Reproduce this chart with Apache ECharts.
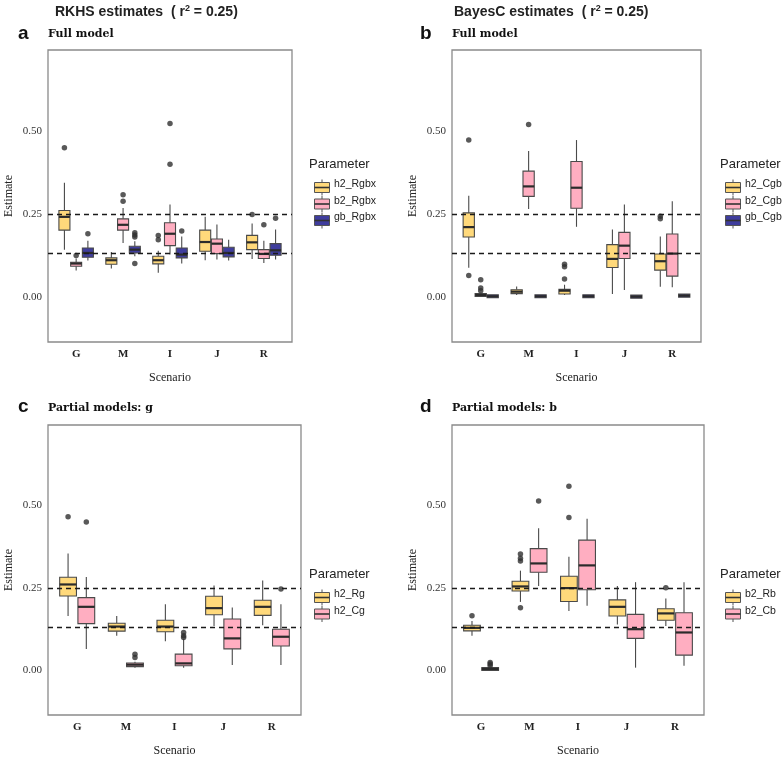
<!DOCTYPE html>
<html><head><meta charset="utf-8">
<script src="https://cdn.jsdelivr.net/npm/echarts@6/dist/echarts.min.js"></script>
<style>html,body{margin:0;padding:0;background:#fff}#c{width:784px;height:758px}</style>
</head><body><div id="c"></div>
<script>
const categories = ['G','M','I','J','R'];
// [lower whisker, Q1, median, Q3, upper whisker] per scenario
// Panel a: RKHS full model
const a_h2_Rgbx = [[0.142,0.201,0.241,0.26,0.344],[0.085,0.098,0.11,0.117,0.135],[0.072,0.099,0.11,0.122,0.139],[0.11,0.137,0.165,0.201,0.241],[0.114,0.142,0.164,0.185,0.221]];
const a_b2_Rgbx = [[0.079,0.092,0.1,0.104,0.115],[0.162,0.201,0.217,0.235,0.268],[0.127,0.154,0.19,0.223,0.278],[0.112,0.13,0.16,0.174,0.218],[0.102,0.115,0.129,0.142,0.169]];
const a_gb_Rgbx = [[0.109,0.119,0.132,0.147,0.169],[0.122,0.132,0.142,0.152,0.167],[0.1,0.117,0.127,0.147,0.182],[0.109,0.12,0.132,0.149,0.172],[0.112,0.125,0.14,0.16,0.203]];
const a_h2_out = [[0,0.45],[2,0.185],[2,0.172],[4,0.248]];
const a_b2_out = [[0,0.124],[1,0.308],[1,0.288],[2,0.523],[2,0.40],[4,0.217]];
const a_gb_out = [[0,0.19],[1,0.193],[1,0.186],[1,0.18],[1,0.1],[2,0.198],[4,0.237]];
// Panel b: BayesC full model
const b_h2_Cgb = [[0.087,0.18,0.21,0.253,0.305],[0.005,0.009,0.015,0.021,0.031],[0.005,0.008,0.018,0.022,0.036],[0.008,0.088,0.114,0.157,0.203],[0.03,0.08,0.107,0.129,0.182]];
const b_b2_Cgb = [[0,0.003,0.005,0.007,0.012],[0.265,0.303,0.333,0.379,0.44],[0.211,0.267,0.329,0.408,0.473],[0.02,0.115,0.154,0.194,0.278],[0.028,0.062,0.13,0.189,0.288]];
const b_gb_Cgb = [[-0.002,0,0.001,0.002,0.003],[-0.002,0,0.001,0.002,0.003],[-0.002,0,0.001,0.002,0.003],[0,0,0,0.001,0.001],[0,0.001,0.003,0.005,0.008]];
const b_h2_out = [[0,0.473],[0,0.064],[2,0.053],[2,0.09],[2,0.098],[4,0.243],[4,0.235]];
const b_b2_out = [[0,0.051],[0,0.026],[0,0.018],[1,0.52]];
const b_gb_out = [];
// Panel c: partial models g
const c_h2_Rg = [[0.164,0.225,0.26,0.282,0.354],[0.104,0.118,0.132,0.142,0.164],[0.087,0.116,0.132,0.151,0.2],[0.134,0.168,0.188,0.224,0.257],[0.136,0.166,0.192,0.212,0.272]];
const c_h2_Cg = [[0.064,0.141,0.192,0.22,0.283],[0.007,0.01,0.016,0.021,0.025],[0.007,0.013,0.02,0.048,0.094],[0.015,0.064,0.096,0.155,0.19],[0.015,0.073,0.101,0.124,0.2]];
const c_Rg_out = [[0,0.466]];
const c_Cg_out = [[0,0.45],[1,0.048],[1,0.038],[2,0.114],[2,0.104],[2,0.099],[4,0.246]];
// Panel d: partial models b
const d_b2_Rb = [[0.104,0.119,0.128,0.136,0.149],[0.207,0.24,0.254,0.27,0.302],[0.179,0.208,0.249,0.285,0.344],[0.138,0.164,0.192,0.213,0.255],[0.134,0.151,0.172,0.186,0.217]];
const d_b2_Cb = [[0,0.001,0.003,0.005,0.007],[0.255,0.297,0.324,0.369,0.431],[0.195,0.244,0.318,0.395,0.46],[0.007,0.096,0.124,0.169,0.267],[0.013,0.045,0.114,0.174,0.267]];
const d_Rb_out = [[0,0.165],[1,0.189],[1,0.331],[1,0.34],[1,0.353],[2,0.464],[2,0.559],[4,0.25]];
const d_Cb_out = [[0,0.023],[0,0.018],[0,0.013],[1,0.514]];

const yTicks = [0, 0.25, 0.5];
const refLines = [0.25, 0.125];

const YEL = '#FFD97B', PNK = '#FFAEC1', BLU = '#3F3D9D';
const SERIF = "'Liberation Serif', 'DejaVu Serif', serif";
const DSERIF = "'DejaVu Serif', serif";
const SANS = "'Liberation Sans', Arial, sans-serif";

const grids = [
  {left:48, top:50, width:244, height:292},
  {left:452, top:50, width:249, height:292},
  {left:48, top:425, width:253, height:293},
  {left:452, top:425, width:252, height:293}
];

function makeRender(color){
  return function(params, api){
    const x = api.value(0), lo = api.value(1), q1 = api.value(2), med = api.value(3), q3 = api.value(4), hi = api.value(5), w = api.value(6);
    const tl = api.coord([x - w/2, q3]), br = api.coord([x + w/2, q1]);
    const pHi = api.coord([x, hi]), pLo = api.coord([x, lo]), pMed = api.coord([x, med]);
    const ls = {stroke:'#4a4a4a', lineWidth:1.1};
    let h = br[1]-tl[1]; let y0 = tl[1];
    if (h < 2) { y0 = pMed[1]-1.5; h = 3; }
    return {type:'group', children:[
      {type:'line', shape:{x1:pHi[0], y1:pHi[1], x2:pHi[0], y2:tl[1]}, style:ls},
      {type:'line', shape:{x1:pLo[0], y1:pLo[1], x2:pLo[0], y2:br[1]}, style:ls},
      {type:'rect', shape:{x:tl[0], y:y0, width:br[0]-tl[0], height:h}, style:{fill:color, stroke:'#4a4a4a', lineWidth:1.1}},
      {type:'line', shape:{x1:tl[0], y1:pMed[1], x2:br[0], y2:pMed[1]}, style:{stroke:'#2b2b2b', lineWidth:2.2}}
    ]};
  };
}

const series = [];
function addGroup(gi, vals, outs, offset, width, color, name){
  series.push({type:'custom', name:name, xAxisIndex:gi, yAxisIndex:gi, z:3,
    renderItem: makeRender(color),
    encode:{x:0, y:[1,2,3,4,5]},
    data: vals.map((v,i)=>[i+1+offset, v[0], v[1], v[2], v[3], v[4], width])});
  series.push({type:'scatter', xAxisIndex:gi, yAxisIndex:gi, z:4, symbolSize:5.5, silent:true,
    itemStyle:{color:'#2f2f2f'},
    data: outs.map(o=>[o[0]+1+offset, o[1]])});
}
// reference dashed lines
for (let gi=0; gi<4; gi++){
  series.push({type:'scatter', xAxisIndex:gi, yAxisIndex:gi, data:[], z:5,
    markLine:{silent:true, symbol:'none', label:{show:false},
      lineStyle:{type:[5,4], color:'#1a1a1a', width:1.3},
      data: refLines.map(v=>({yAxis:v}))}});
}
const w3 = 0.235, w2 = 0.345;
addGroup(0, a_h2_Rgbx, a_h2_out, -0.25, w3, YEL, 'h2_Rgbx');
addGroup(0, a_b2_Rgbx, a_b2_out, 0, w3, PNK, 'b2_Rgbx');
addGroup(0, a_gb_Rgbx, a_gb_out, 0.25, w3, BLU, 'gb_Rgbx');
addGroup(1, b_h2_Cgb, b_h2_out, -0.25, w3, YEL, 'h2_Cgb');
addGroup(1, b_b2_Cgb, b_b2_out, 0, w3, PNK, 'b2_Cgb');
addGroup(1, b_gb_Cgb, b_gb_out, 0.25, w3, BLU, 'gb_Cgb');
addGroup(2, c_h2_Rg, c_Rg_out, -0.1875, w2, YEL, 'h2_Rg');
addGroup(2, c_h2_Cg, c_Cg_out, 0.1875, w2, PNK, 'h2_Cg');
addGroup(3, d_b2_Rb, d_Rb_out, -0.1875, w2, YEL, 'b2_Rb');
addGroup(3, d_b2_Cb, d_Cb_out, 0.1875, w2, PNK, 'b2_Cb');

const xAxes = grids.map((g,i)=>({type:'value', gridIndex:i, min:0.4, max:5.6,
  name:'Scenario', nameLocation:'middle', nameGap:30,
  nameTextStyle:{fontFamily:SERIF, fontSize:12, color:'#222'},
  axisLine:{show:false}, splitLine:{show:false},
  axisTick:{show:false},
  axisLabel:{customValues:[1,2,3,4,5], formatter:v=>categories[Math.round(v)-1], fontFamily:SERIF, fontWeight:'bold', fontSize:11, color:'#222', margin:7}}));
const yAxes = grids.map((g,i)=>({type:'value', gridIndex:i, min:-0.137, max:0.745,
  name:'Estimate', nameLocation:'middle', nameGap:33,
  nameTextStyle:{fontFamily:SERIF, fontSize:12, color:'#222'},
  axisLine:{show:false}, splitLine:{show:false}, axisTick:{show:false},
  axisLabel:{customValues:yTicks, formatter:v=>v.toFixed(2), fontFamily:SERIF, fontSize:11, color:'#333', margin:6}}));

function legend(x, y, items){
  const els = [{type:'text', left:x, top:y, style:{text:'Parameter', font:'13px '+SANS, fill:'#222'}}];
  items.forEach((it,k)=>{
    const cy = y + 27 + k*16.5;
    els.push({type:'group', left:x+3, top:cy-8, children:[
      {type:'line', shape:{x1:7.5, y1:0, x2:7.5, y2:16}, style:{stroke:'#555', lineWidth:1}},
      {type:'rect', shape:{x:0, y:3, width:15, height:10}, style:{fill:it[1], stroke:'#555', lineWidth:1}},
      {type:'line', shape:{x1:0, y1:8, x2:15, y2:8}, style:{stroke:'#333', lineWidth:1.6}}
    ]});
    els.push({type:'text', left:x+25, top:cy-6, style:{text:it[0], font:'10.5px '+SANS, fill:'#222'}});
  });
  return els;
}

const titleRich = {t:{font:'bold 14px '+SANS, fill:'#222'}, s:{font:'bold 9px '+SANS, fill:'#222', verticalAlign:'top', padding:[0,0,8,0]}};
const graphic = [
  {type:'text', left:55, top:4, style:{rich:titleRich, text:'{t|RKHS estimates  ( r}{s|2}{t| = 0.25)}'}},
  {type:'text', left:454, top:4, style:{rich:titleRich, text:'{t|BayesC estimates  ( r}{s|2}{t| = 0.25)}'}},
  {type:'text', left:18, top:24, style:{text:'a', font:'bold 19px '+SANS, fill:'#111'}},
  {type:'text', left:420, top:24, style:{text:'b', font:'bold 19px '+SANS, fill:'#111'}},
  {type:'text', left:18, top:397, style:{text:'c', font:'bold 19px '+SANS, fill:'#111'}},
  {type:'text', left:420, top:397, style:{text:'d', font:'bold 19px '+SANS, fill:'#111'}},
  {type:'text', left:48, top:29, style:{text:'Full model', font:'bold 11px '+DSERIF, fill:'#111'}},
  {type:'text', left:452, top:29, style:{text:'Full model', font:'bold 11px '+DSERIF, fill:'#111'}},
  {type:'text', left:48, top:403, style:{text:'Partial models: g', font:'bold 11px '+DSERIF, fill:'#111'}},
  {type:'text', left:452, top:403, style:{text:'Partial models: b', font:'bold 11px '+DSERIF, fill:'#111'}}
].concat(
  legend(309, 158, [['h2_Rgbx',YEL],['b2_Rgbx',PNK],['gb_Rgbx',BLU]]),
  legend(720, 158, [['h2_Cgb',YEL],['b2_Cgb',PNK],['gb_Cgb',BLU]]),
  legend(309, 568, [['h2_Rg',YEL],['h2_Cg',PNK]]),
  legend(720, 568, [['b2_Rb',YEL],['b2_Cb',PNK]])
);

const chart = echarts.init(document.getElementById('c'));
chart.setOption({
  animation:false,
  grid: grids.map(g=>Object.assign({show:true, borderColor:'#8a8a8a', borderWidth:1.3, backgroundColor:'#fff'}, g)),
  xAxis: xAxes, yAxis: yAxes, series: series, graphic: graphic
});
</script></body></html>
